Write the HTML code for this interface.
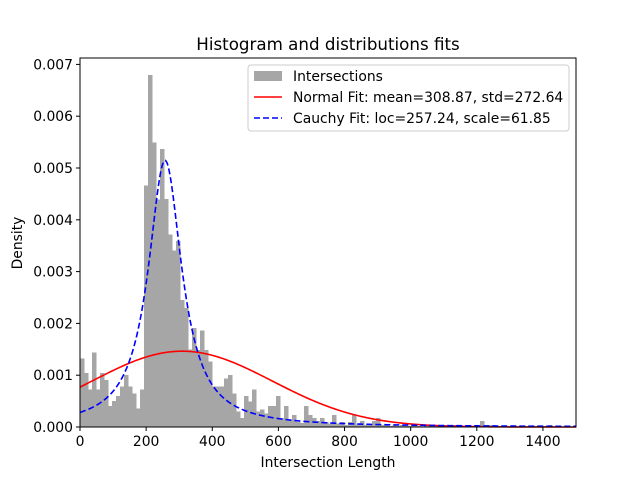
<!DOCTYPE html>
<html><head><meta charset="utf-8"><style>
body{margin:0;background:#fff}
svg{font-family:"DejaVu Sans","Liberation Sans",sans-serif}
</style></head><body>
<svg id="chart" width="640" height="480">
<rect width="640" height="480" fill="#fff"/>
<text x="328" y="50" text-anchor="middle" font-size="16.7">Histogram and distributions fits</text>
<g id="bars" shape-rendering="crispEdges"></g>
<g id="curves"></g>
<rect x="80" y="58" width="496" height="369" fill="none" stroke="#000" stroke-width="1"/>
<g id="xticks"></g>
<g id="yticks"></g>
<text x="328" y="467" text-anchor="middle" font-size="13.9">Intersection Length</text>
<text x="22" y="243" text-anchor="middle" font-size="13.9" transform="rotate(-90 22 243)">Density</text>
<g>
<rect x="248" y="65" width="321" height="66" rx="3" fill="#fff" fill-opacity="0.8" stroke="#ccc"/>
<rect x="254" y="71" width="28" height="10" fill="#a6a6a6"/>
<text x="293" y="81" font-size="13.9">Intersections</text>
<line x1="254" y1="97" x2="282" y2="97" stroke="red" stroke-width="1.6"/>
<text x="293" y="102" font-size="13.9">Normal Fit: mean=308.87, std=272.64</text>
<line x1="254" y1="118" x2="282" y2="118" stroke="blue" stroke-width="1.6" stroke-dasharray="6,3"/>
<text x="293" y="123" font-size="13.9">Cauchy Fit: loc=257.24, scale=61.85</text>
</g>
</svg>
<script>
const binWidth = 12.1;
const densities = [1.32,1.04,0.72,1.44,0.72,1.04,0.91,0.41,0.5,0.6,0.78,1.0,0.78,0.65,0.36,0.72,
4.66,6.8,5.49,4.39,5.37,4.4,3.72,3.41,3.59,2.45,2.3,1.5,1.91,1.49,1.86,1.49,1.26,0.78,0.78,0.78,0.94,1.0,
0.65,0.3,0.17,0.6,0.49,0.72,0.3,0.34,0.26,0.41,0.41,0.6,0.17,0.41,0.14,0.23,0.1,0.08,0.41,0.23,0.17,
0.12,0.17,0.1,0.07,0.23,0.07,0.1,0.04,0.1,0.23,0.05,0.12,0.04,0.05,0.12,0.17,0.04,0.03,0.02,0.03,0.02,
0.04,0.02,0.02,0.03,0.02,0.01,0.02,0.02,0.01,0.02,0.01,0.02,0.01,0.04,0.01,0.01,0.02,0.01,0.01,0.01,
0.12,0.01,0.04,0.01,0.01,0.01,0.01,0.01,0.01,0.01,0.01,0.01,0.01,0.01,0.01,0.01,0.01,0.04,0.01,0.01,
0.01,0.01,0.01,0.01];
const xTicks = [0,200,400,600,800,1000,1200,1400];
const yTicks = [0,0.001,0.002,0.003,0.004,0.005,0.006,0.007];
const normalMean = 308.87, normalStd = 272.64;
const cauchyLoc = 257.24, cauchyScale = 61.85;

const NS="http://www.w3.org/2000/svg";
const X = v => 80 + v/1500*496;
const Y = v => 427 - v/0.001*51.8;
function mk(t,a){const e=document.createElementNS(NS,t);for(const k in a)e.setAttribute(k,a[k]);return e;}

const bars=document.getElementById('bars');
densities.forEach((d,i)=>{
  const v=d*0.001;
  const x0=X(i*binWidth), x1=Math.min(X((i+1)*binWidth),576);
  if(x1<=x0) return;
  const r=mk('rect',{x:x0,y:Y(v),width:x1-x0+0.3,height:427-Y(v),fill:'#a6a6a6'});
  
  
  bars.appendChild(r);
});

const curves=document.getElementById('curves');
let pn='',pc='';
for(let x=0;x<=1500;x+=3){
  const n=Math.exp(-0.5*((x-normalMean)/normalStd)**2)/(normalStd*Math.sqrt(2*Math.PI));
  const c=1/(Math.PI*cauchyScale*(1+((x-cauchyLoc)/cauchyScale)**2));
  pn+=(x?'L':'M')+X(x).toFixed(2)+','+Y(n).toFixed(2);
  pc+=(x?'L':'M')+X(x).toFixed(2)+','+Y(c).toFixed(2);
}
const ln=mk('path',{d:pn,fill:'none',stroke:'red','stroke-width':1.6});


curves.appendChild(ln);
const lc=mk('path',{d:pc,fill:'none',stroke:'blue','stroke-width':1.6,'stroke-dasharray':'6,3'});


curves.appendChild(lc);

const xg=document.getElementById('xticks');
xTicks.forEach(t=>{
  const l=mk('line',{x1:X(t),x2:X(t),y1:427,y2:431,stroke:'#000'});
  
  
  xg.appendChild(l);
  const tx=mk('text',{x:X(t),y:446,'text-anchor':'middle','font-size':13.9});
  
  
  tx.textContent=t;xg.appendChild(tx);
});
const yg=document.getElementById('yticks');
yTicks.forEach(t=>{
  const l=mk('line',{x1:76,x2:80,y1:Y(t),y2:Y(t),stroke:'#000'});
  
  
  yg.appendChild(l);
  const tx=mk('text',{x:73,y:Y(t)+5,'text-anchor':'end','font-size':13.9});
  
  
  tx.textContent=t.toFixed(3);yg.appendChild(tx);
});
</script>
</body></html>
